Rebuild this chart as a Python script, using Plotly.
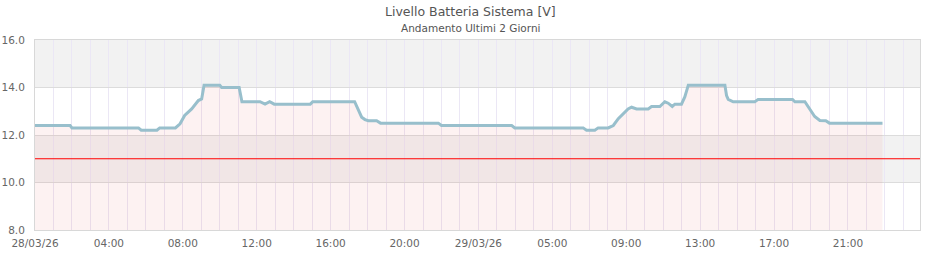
import plotly.graph_objects as go

# Time in real hours since 28/03/26 00:00 (local), battery voltage [V]
hours = [0, 1.9, 2.0, 5.6, 5.75, 6.6, 6.75, 7.6, 7.85, 8.1, 8.48, 8.84, 9.02, 9.15,
         10.0, 10.1, 11.05, 11.2, 12.18, 12.45, 12.7, 12.95, 14.9, 15.03, 17.3, 17.5,
         17.68, 17.86, 18.04, 18.49, 18.7, 21.83, 22.0, 25.8, 25.97, 29.67, 29.85, 30.3,
         30.48, 31.02, 31.3, 31.57, 31.84, 32.1, 32.29, 32.56, 33.19, 33.37, 33.82, 34.09,
         34.27, 34.49, 34.63, 34.99, 35.17, 35.36, 37.34, 37.43, 37.52, 37.79, 38.96,
         39.14, 41.0, 41.13, 41.67, 41.94, 42.2, 42.48, 42.8, 43.0, 45.87]
volts = [12.4, 12.4, 12.3, 12.3, 12.2, 12.2, 12.3, 12.3, 12.47, 12.82, 13.1, 13.45, 13.52, 14.1,
         14.1, 14.0, 14.0, 13.4, 13.4, 13.3, 13.4, 13.3, 13.3, 13.4, 13.4, 13.03,
         12.75, 12.65, 12.6, 12.6, 12.5, 12.5, 12.4, 12.4, 12.3, 12.3, 12.2, 12.2,
         12.3, 12.3, 12.4, 12.69, 12.9, 13.1, 13.17, 13.1, 13.1, 13.2, 13.2, 13.4,
         13.34, 13.2, 13.3, 13.3, 13.6, 14.1, 14.1, 13.66, 13.5, 13.4, 13.4,
         13.5, 13.5, 13.4, 13.4, 13.1, 12.78, 12.61, 12.6, 12.5, 12.5]

tick_vals = [0, 4, 8, 12, 16, 20, 24, 28, 32, 36, 40, 44]
tick_text = ["28/03/26", "04:00", "08:00", "12:00", "16:00", "20:00",
             "29/03/26", "05:00", "09:00", "13:00", "17:00", "21:00"]
threshold = 11.0
gray_bands = [(14, 16), (10, 12)]

fig = go.Figure()
fig.add_trace(go.Scatter(
    x=hours, y=volts, mode="lines",
    line=dict(color="#98bfcc", width=3),
    fill="tozeroy", fillcolor="rgba(235,90,90,0.08)",
    hoverinfo="x+y", showlegend=False,
))

shapes = []
for lo, hi in gray_bands:
    shapes.append(dict(type="rect", xref="paper", yref="y", x0=0, x1=1, y0=lo, y1=hi,
                       fillcolor="#f2f2f2", line=dict(width=0), layer="below"))
shapes.append(dict(type="line", xref="paper", yref="y", x0=0, x1=1, y0=threshold, y1=threshold,
                   line=dict(color="#ff0000", width=1.2), layer="above"))

font = "DejaVu Sans, sans-serif"
title_x = (470 - 35) / 885.0
fig.update_layout(
    width=940, height=260,
    margin=dict(l=35, r=20, t=40, b=30, autoexpand=False),
    paper_bgcolor="white", plot_bgcolor="white",
    font=dict(family=font, size=10, color="#666666"),
    shapes=shapes,
    annotations=[
        dict(text="Livello Batteria Sistema [V]", xref="paper", yref="paper",
             x=title_x, y=1, yshift=29, xanchor="center", yanchor="middle", showarrow=False,
             font=dict(family=font, size=12.5, color="#555555")),
        dict(text="Andamento Ultimi 2 Giorni", xref="paper", yref="paper",
             x=title_x, y=1, yshift=12, xanchor="center", yanchor="middle", showarrow=False,
             font=dict(family=font, size=10.5, color="#555555")),
    ],
    xaxis=dict(
        range=[0, 47.9], tickmode="array", tickvals=tick_vals, ticktext=tick_text,
        showgrid=True, gridcolor="#ebe7f5", gridwidth=1, zeroline=False,
        showline=True, mirror=True, linecolor="#d8d8d8", linewidth=1,
        ticks="", ticklabelstandoff=3, automargin=False,
        tickfont=dict(size=10.5, color="#666666"),
        minor=dict(tickmode="linear", tick0=0, dtick=1, showgrid=True,
                   gridcolor="#ebe7f5", gridwidth=1),
    ),
    yaxis=dict(
        range=[8, 16], tickmode="linear", tick0=8, dtick=2, tickformat=".1f",
        showgrid=True, gridcolor="#dcdcdc", gridwidth=1, zeroline=False,
        showline=True, mirror=True, linecolor="#d8d8d8", linewidth=1,
        ticks="", ticklabelstandoff=7, automargin=False,
        tickfont=dict(size=10.5, color="#666666"),
    ),
)

fig.write_html("out.html")
